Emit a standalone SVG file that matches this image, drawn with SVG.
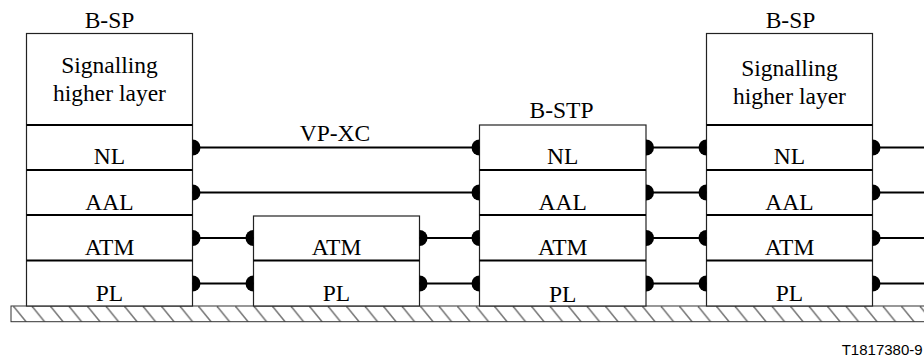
<svg xmlns="http://www.w3.org/2000/svg" width="924" height="358" viewBox="0 0 924 358">
<style>
  .box { fill: #fff; stroke: #222; stroke-width: 1.2; }
  .div { stroke: #000; stroke-width: 2; }
  .lbl { font-family: "Liberation Serif", "Times New Roman", serif; font-size: 23.5px; fill: #000; text-anchor: middle; }
  .conn { stroke: #000; stroke-width: 2; fill: none; }
  .foot { font-family: "Liberation Sans", Arial, sans-serif; font-size: 15px; fill: #000; }
</style>
<defs>
  <marker id="dotR" viewBox="-10 -10 20 20" refX="0" refY="0" markerWidth="20" markerHeight="20" markerUnits="userSpaceOnUse" orient="0" overflow="visible">
    <path d="M0,-8 A8,8 0 0 1 0,8 Z" fill="#000"/>
  </marker>
  <marker id="dotL" viewBox="-10 -10 20 20" refX="0" refY="0" markerWidth="20" markerHeight="20" markerUnits="userSpaceOnUse" orient="0" overflow="visible">
    <path d="M0,-8 A8,8 0 0 0 0,8 Z" fill="#000"/>
  </marker>
  <pattern id="hatch" patternUnits="userSpaceOnUse" x="13.3" y="306" width="18.5" height="16">
    <line x1="0" y1="0" x2="13" y2="16" stroke="#7a7a7a" stroke-width="1.6"/>
  </pattern>
</defs>

<g id="ground">
  <rect x="11" y="306" width="920" height="15.7" fill="url(#hatch)" stroke="#333" stroke-width="1"/>
</g>

<g id="node-bsp-left">
  <rect class="box" x="26.5" y="33.5" width="166" height="272.5"/>
  <line class="div" x1="26.5" y1="125" x2="192.5" y2="125"/>
  <line class="div" x1="26.5" y1="170" x2="192.5" y2="170"/>
  <line class="div" x1="26.5" y1="215" x2="192.5" y2="215"/>
  <line class="div" x1="26.5" y1="260.5" x2="192.5" y2="260.5"/>
  <text class="lbl" x="109.5" y="28.3">B-SP</text>
  <text class="lbl" x="109.5" y="72.7">Signalling</text>
  <text class="lbl" x="109.5" y="100.7">higher layer</text>
  <text class="lbl" x="109.5" y="164">NL</text>
  <text class="lbl" x="109.5" y="209.5">AAL</text>
  <text class="lbl" x="109.5" y="254.5">ATM</text>
  <text class="lbl" x="109.5" y="300.5">PL</text>
</g>

<g id="node-vpxc">
  <rect class="box" x="253.5" y="216" width="166" height="90"/>
  <line class="div" x1="253.5" y1="260.5" x2="419.5" y2="260.5"/>
  <text class="lbl" x="336.5" y="255">ATM</text>
  <text class="lbl" x="336.5" y="301">PL</text>
</g>

<g id="node-bstp">
  <rect class="box" x="479.5" y="125" width="166.5" height="181"/>
  <line class="div" x1="479.5" y1="170" x2="646" y2="170"/>
  <line class="div" x1="479.5" y1="215" x2="646" y2="215"/>
  <line class="div" x1="479.5" y1="260.5" x2="646" y2="260.5"/>
  <text class="lbl" x="561.5" y="118.3">B-STP</text>
  <text class="lbl" x="562.7" y="163.5">NL</text>
  <text class="lbl" x="562.7" y="210">AAL</text>
  <text class="lbl" x="562.7" y="255">ATM</text>
  <text class="lbl" x="562.7" y="301.5">PL</text>
</g>

<g id="node-bsp-right">
  <rect class="box" x="706.5" y="33.5" width="166" height="272.5"/>
  <line class="div" x1="706.5" y1="125" x2="872.5" y2="125"/>
  <line class="div" x1="706.5" y1="170" x2="872.5" y2="170"/>
  <line class="div" x1="706.5" y1="215" x2="872.5" y2="215"/>
  <line class="div" x1="706.5" y1="260.5" x2="872.5" y2="260.5"/>
  <text class="lbl" x="790.5" y="28.3">B-SP</text>
  <text class="lbl" x="789.5" y="76">Signalling</text>
  <text class="lbl" x="789.5" y="104">higher layer</text>
  <text class="lbl" x="789.5" y="164">NL</text>
  <text class="lbl" x="789.5" y="210">AAL</text>
  <text class="lbl" x="789.5" y="254.5">ATM</text>
  <text class="lbl" x="789.5" y="300.5">PL</text>
</g>

<g id="connectors">
  <line class="conn" x1="192.5" y1="147.5" x2="479.5" y2="147.5" marker-start="url(#dotR)" marker-end="url(#dotL)"/>
  <text class="lbl" x="335" y="140.7">VP-XC</text>
  <line class="conn" x1="192.5" y1="192.5" x2="479.5" y2="192.5" marker-start="url(#dotR)" marker-end="url(#dotL)"/>
  <line class="conn" x1="192.5" y1="238" x2="253.5" y2="238" marker-start="url(#dotR)" marker-end="url(#dotL)"/>
  <line class="conn" x1="192.5" y1="283.5" x2="253.5" y2="283.5" marker-start="url(#dotR)" marker-end="url(#dotL)"/>
  <line class="conn" x1="419.5" y1="238" x2="479.5" y2="238" marker-start="url(#dotR)" marker-end="url(#dotL)"/>
  <line class="conn" x1="419.5" y1="283.5" x2="479.5" y2="283.5" marker-start="url(#dotR)" marker-end="url(#dotL)"/>
  <line class="conn" x1="646" y1="147.5" x2="706.5" y2="147.5" marker-start="url(#dotR)" marker-end="url(#dotL)"/>
  <line class="conn" x1="646" y1="192.5" x2="706.5" y2="192.5" marker-start="url(#dotR)" marker-end="url(#dotL)"/>
  <line class="conn" x1="646" y1="238" x2="706.5" y2="238" marker-start="url(#dotR)" marker-end="url(#dotL)"/>
  <line class="conn" x1="646" y1="283.5" x2="706.5" y2="283.5" marker-start="url(#dotR)" marker-end="url(#dotL)"/>
  <line class="conn" x1="872.5" y1="147.5" x2="930" y2="147.5" marker-start="url(#dotR)"/>
  <line class="conn" x1="872.5" y1="192.5" x2="930" y2="192.5" marker-start="url(#dotR)"/>
  <line class="conn" x1="872.5" y1="238" x2="930" y2="238" marker-start="url(#dotR)"/>
  <line class="conn" x1="872.5" y1="283.5" x2="930" y2="283.5" marker-start="url(#dotR)"/>
</g>

<text class="foot" x="841.7" y="355">T1817380-9</text>
</svg>
